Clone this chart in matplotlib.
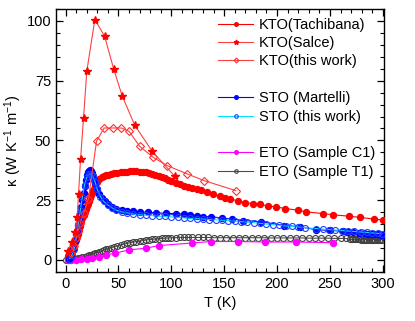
import matplotlib
matplotlib.use('Agg')
import matplotlib.pyplot as plt
from matplotlib.lines import Line2D
from matplotlib.ticker import MultipleLocator

plt.rcParams['font.family'] = ['Liberation Sans', 'DejaVu Sans']
plt.rcParams['font.size'] = 10.5

# KTO (Tachibana)
t_tach = [2, 3, 4, 5, 6, 7, 8, 9, 10, 11, 12, 13, 14, 15, 16, 17, 18, 19, 20, 21, 22, 23, 24, 25, 26,
          28, 30, 32, 34, 36, 38, 40, 43, 46, 49, 52, 55, 58, 61, 64, 67, 70, 73, 76, 79, 82, 85, 88,
          91, 94, 97, 100, 104, 108, 112, 116, 120, 124,
          128.5, 133.3, 139.5, 145.8, 150.6, 155.3, 163.1, 169.5, 177.3, 183.6, 191.5, 198.8, 207.9,
          219.9, 227.8, 243.5, 253, 267.8, 278.2, 291.7, 300]
k_tach = [1.5, 2.5, 3.2, 4.0, 4.8, 5.7, 6.6, 7.4, 8.2, 9.5, 11, 12.5, 14.2, 16.0, 17.4, 18.8, 20.0, 21.3,
          22.4, 23.6, 24.8, 26.0, 27.2, 28.2, 29.2, 31.0, 32.6, 33.8, 34.6, 35.1, 35.4, 35.7, 36.0, 36.3,
          36.5, 36.7, 36.9, 37.0, 37.1, 37.1, 37.1, 37.0, 36.8, 36.6, 36.3, 35.9, 35.4, 35.0, 34.5, 34.1,
          33.6, 33.1, 32.4, 31.8, 31.1, 30.5, 30.0, 29.5,
          29.3, 28.3, 27.4, 26.7, 26.0, 25.7, 24.6, 24.0, 23.6, 23.2, 22.6, 22.2, 21.5,
          20.8, 20.1, 19.4, 18.9, 18.3, 17.8, 17.1, 16.7]

# KTO (Salce)
t_salce = [2.5, 5.7, 9.1, 11, 12.3, 14.2, 17, 20.1, 27.7, 36.9, 45.6, 53.5, 65.5, 81.9, 103.3]
k_salce = [3.9, 7.4, 11.6, 17.9, 27.7, 42.2, 59.3, 78.9, 100.6, 93.6, 79.8, 68.7, 56.3, 45.5, 35.0]

# KTO (this work)
t_kto = [5, 8, 10, 12, 14, 17, 21.7, 29.3, 36.5, 45, 52.9, 60.1, 70.2, 83, 96, 115, 131, 161]
k_kto = [3, 6, 9, 12, 15.5, 19.5, 25.6, 49.7, 55.2, 55.2, 55.2, 53.8, 47.5, 42.9, 39.5, 36.0, 33.2, 29.0]

# STO (Martelli)
t_mart = [3, 5, 7, 9, 11, 12, 13, 14, 15, 16, 17, 18, 19, 20, 21, 22, 23, 24, 25, 26, 27, 28, 30, 32,
          34, 37, 40, 44, 48, 53, 58, 64, 70, 78, 86, 95, 104, 112, 118, 124, 130, 138, 148, 157, 168,
          185, 207, 222, 237, 250, 262, 267, 272, 277.5, 282, 286, 290, 292, 295, 298, 300]
k_mart = [0.5, 1.5, 4, 8, 12, 14.5, 17, 19.5, 22, 25, 28, 31, 33.5, 35.5, 36.8, 37.3, 37.5, 37.2, 36.3,
          35, 33.5, 32, 29.5, 27.5, 26, 24.5, 23.2, 22.2, 21.5, 21, 20.6, 20.3, 20.1, 19.9, 19.7, 19.5,
          19.4, 19.2, 18.9, 18.5, 18.1, 18.1, 17.5, 17.2, 16.5, 16.0, 14.4, 13.9, 12.6, 12.4, 12.0,
          11.6, 11.5, 11.3, 11.1, 11.0, 10.9, 10.9, 10.7, 10.6, 10.5]

# STO (this work)
t_sto = [4, 6, 8, 10, 12, 14, 16, 18, 20, 22, 24, 26, 28, 30, 33, 36, 40, 44, 48, 53, 58, 64, 70, 76,
         82, 88, 94, 100, 106, 112, 118, 124, 130, 136, 142, 148, 154, 160, 166, 172, 178, 184, 190,
         196, 202, 208, 214, 220, 226, 237, 243, 249, 255, 261, 267, 273, 279, 285, 290, 295, 299]
k_sto = [0.5, 2, 4.5, 9, 15, 21, 26.5, 31.5, 34.5, 35.8, 36.0, 35.0, 32.5, 29.5, 26.5, 24.5, 23.0, 21.8,
         20.8, 20.1, 19.7, 19.2, 18.9, 18.7, 18.5, 18.3, 18.2, 18.0, 17.8, 17.6, 17.4, 17.3, 17.1, 16.9,
         16.8, 16.6, 16.4, 16.3, 16.0, 15.8, 15.6, 15.3, 15.0, 14.7, 14.5, 14.2, 14.0, 13.8, 13.5, 13.1,
         12.9, 12.7, 12.5, 12.3, 12.1, 11.9, 11.7, 11.5, 11.3, 11.1, 11.0]

# ETO (Sample C1)
t_c1 = [2, 5, 10, 15, 20, 25, 31.8, 38, 46.9, 60.1, 75.9, 87.9, 120, 137.3, 163, 189, 218, 253]
k_c1 = [0, 0, 0.1, 0.3, 0.5, 0.8, 1.1, 2.1, 2.8, 4.2, 4.9, 6.0, 7.1, 7.7, 7.7, 7.5, 7.5, 7.2]

# ETO (Sample T1)
t_t1 = [0, 2, 4, 6, 8, 10, 12, 14, 16, 18, 20, 22, 24, 26, 28, 30, 32, 34, 36, 38, 40, 43, 46, 49, 52,
        55, 58, 61, 64, 67, 70, 73, 76, 79, 82, 85, 88, 91, 94, 97, 100, 104, 108, 112, 116, 120, 125,
        130, 135, 140, 146, 152, 158, 164, 170, 176, 182, 188, 194, 200, 206, 212, 218, 224, 230, 236,
        242, 248, 254, 260, 265, 269, 270.5, 272, 273.5, 275, 276.5, 278, 279.5, 281, 282.5, 284,
        285.5, 287, 288.5, 290, 291.5, 293, 294.5, 296, 297.5, 299]
k_t1 = [0, 0.05, 0.1, 0.2, 0.3, 0.5, 0.7, 0.9, 1.1, 1.3, 1.6, 1.9, 2.2, 2.5, 2.8, 3.1, 3.4, 3.8, 4.1,
        4.4, 4.7, 5.1, 5.5, 5.9, 6.3, 6.6, 6.9, 7.2, 7.5, 7.7, 7.9, 8.1, 8.3, 8.5, 8.6, 8.8, 8.9, 9.0,
        9.1, 9.2, 9.3, 9.3, 9.4, 9.4, 9.4, 9.4, 9.4, 9.4, 9.4, 9.3, 9.3, 9.3, 9.3, 9.3, 9.3, 9.3, 9.3,
        9.3, 9.2, 9.2, 9.2, 9.2, 9.2, 9.2, 9.1, 9.1, 9.1, 9.1, 9.0, 9.0, 9.0, 8.6, 8.6, 8.6, 8.6, 8.6,
        8.6, 8.6, 8.5, 8.5, 8.5, 8.5, 8.5, 8.5, 8.5, 8.5, 8.5, 8.5, 8.5, 8.5, 8.5, 8.5]

fig = plt.figure(figsize=(4.15, 3.21), dpi=100)
ax = fig.add_axes([0.135, 0.153, 0.79, 0.819])

ms = 4.3
ax.plot(t_t1, k_t1, color='0.3', lw=0.8, marker='o', ms=ms, mfc='none', mec='0.25', mew=0.8,
        label='ETO (Sample T1)', zorder=2)
ax.plot(t_c1, k_c1, color='#ff00ff', lw=0.8, marker='o', ms=ms, mfc='#ff00ff', mec='#ff00ff',
        label='ETO (Sample C1)', zorder=2)
ax.plot(t_tach, k_tach, color='#ff0000', lw=0.8, marker='o', ms=ms, mfc='#ff0000', mec='#ff0000',
        label='KTO(Tachibana)', zorder=3)
ax.plot(t_mart, k_mart, color='#0000ff', lw=0.8, marker='o', ms=ms, mfc='#0000ff', mec='#0000ff',
        label='STO (Martelli)', zorder=3)
ax.plot(t_sto, k_sto, color='#00e0ff', lw=0.8, marker='o', ms=ms, mfc='none', mec='#2040ff', mew=0.8,
        label='STO (this work)', zorder=4)
ax.plot(t_kto, k_kto, color='#ff4040', lw=0.8, marker='D', ms=4.2, mfc='none', mec='#ff3030', mew=0.8,
        label='KTO(this work)', zorder=4)
ax.plot(t_salce, k_salce, color='#ff4040', lw=0.8, marker='*', ms=6, mfc='#ff0000', mec='#ff0000',
        label='KTO(Salce)', zorder=5)

ax.set_xlim(-9, 301)
ax.set_ylim(-5, 105)
ax.xaxis.set_major_locator(MultipleLocator(50))
ax.xaxis.set_minor_locator(MultipleLocator(10))
ax.yaxis.set_major_locator(MultipleLocator(25))
ax.yaxis.set_minor_locator(MultipleLocator(5))
ax.tick_params(which='both', direction='in', top=True, right=True, labelsize=10.5)
ax.tick_params(which='major', length=5, width=0.9)
ax.tick_params(which='minor', length=3, width=0.8)
for s in ax.spines.values():
    s.set_linewidth(1.0)

ax.set_xlabel('T (K)', fontsize=10.5, labelpad=4)
ax.set_ylabel(r'$\mathregular{\kappa\ (W\ K^{-1}\ m^{-1})}$', fontsize=10.5, labelpad=2)

# legend with gaps between groups
hl = {h.get_label(): h for h in ax.get_lines()}
blank = Line2D([], [], linestyle='none', marker='none')
order = ['KTO(Tachibana)', 'KTO(Salce)', 'KTO(this work)', None,
         'STO (Martelli)', 'STO (this work)', None,
         'ETO (Sample C1)', 'ETO (Sample T1)']
handles = [hl[o] if o else blank for o in order]
labels = [o if o else '' for o in order]
ax.legend(handles, labels, loc='upper right', bbox_to_anchor=(1.0, 1.0), frameon=False,
          fontsize=10.5, markerscale=0.6, handlelength=2.4, handletextpad=0.4,
          labelspacing=0.3, borderaxespad=0.2)

fig.savefig('out.png', dpi=100)
